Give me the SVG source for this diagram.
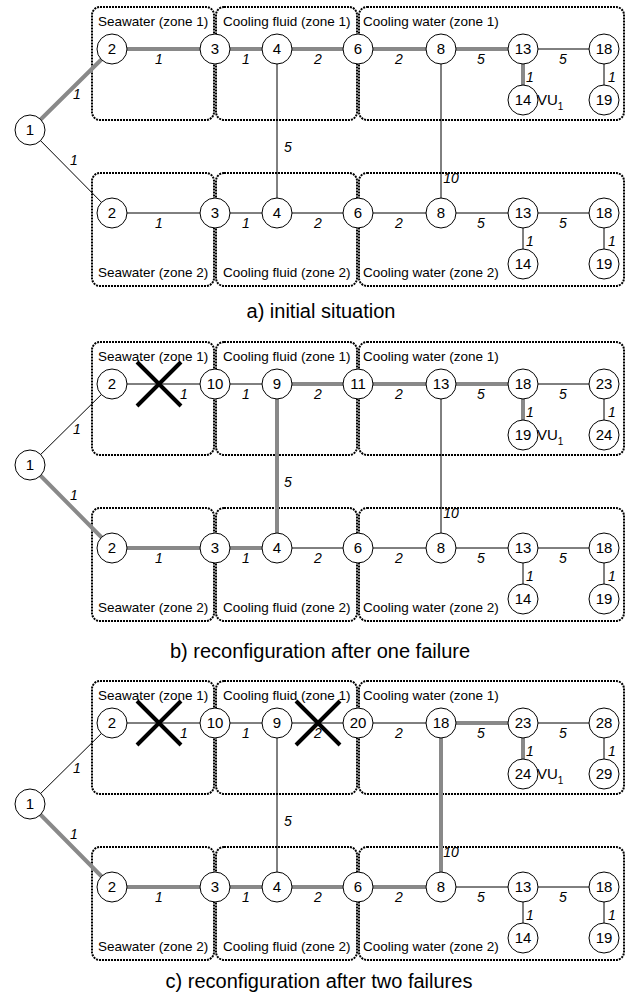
<svg xmlns="http://www.w3.org/2000/svg" width="626" height="993" viewBox="0 0 626 993">
<defs>
<style>
.box{fill:none;stroke:#000;stroke-width:2;stroke-dasharray:2 1}
.e{fill:none;stroke:#000;stroke-width:1}
.h{fill:none;stroke:#898989;stroke-width:4}
.n circle{fill:#fff;stroke:#000;stroke-width:1}
.n text{font-family:"Liberation Sans",Arial,sans-serif;font-size:15px;text-anchor:middle;fill:#000}
.el{font-family:"Liberation Sans",Arial,sans-serif;font-size:14px;font-style:italic;text-anchor:middle;fill:#000}
.zl{font-family:"Liberation Sans",Arial,sans-serif;font-size:13.5px;fill:#000}
.vu{font-family:"Liberation Sans",Arial,sans-serif;font-size:15px;fill:#000}
.sub{font-family:"Liberation Sans",Arial,sans-serif;font-size:10px;fill:#000}
.cap{font-family:"Liberation Sans",Arial,sans-serif;font-size:20px;text-anchor:middle;fill:#000}
.x{stroke:#000;stroke-width:4;fill:none}
</style>
<g id="zones">
<rect class="box" x="92" y="7" width="122" height="113" rx="8"/>
<rect class="box" x="216" y="7" width="141" height="113" rx="8"/>
<rect class="box" x="359" y="7" width="265" height="113" rx="8"/>
<rect class="box" x="92" y="173" width="122" height="113" rx="8"/>
<rect class="box" x="216" y="173" width="141" height="113" rx="8"/>
<rect class="box" x="359" y="173" width="265" height="113" rx="8"/>
<text class="zl" x="98" y="26">Seawater (zone 1)</text>
<text class="zl" x="223" y="26">Cooling fluid (zone 1)</text>
<text class="zl" x="363" y="26">Cooling water (zone 1)</text>
<text class="zl" x="98" y="277">Seawater (zone 2)</text>
<text class="zl" x="223" y="277">Cooling fluid (zone 2)</text>
<text class="zl" x="363" y="277">Cooling water (zone 2)</text>
</g>
<g id="edgelabels-common">
<text class="el" x="77" y="99">1</text>
<text class="el" x="74" y="165">1</text>
<text class="el" x="246" y="64">1</text>
<text class="el" x="399" y="64">2</text>
<text class="el" x="481" y="64">5</text>
<text class="el" x="563" y="64">5</text>
<text class="el" x="530" y="82">1</text>
<text class="el" x="612" y="82">1</text>
<text class="el" x="159" y="228">1</text>
<text class="el" x="246" y="228">1</text>
<text class="el" x="318" y="228">2</text>
<text class="el" x="399" y="228">2</text>
<text class="el" x="481" y="228">5</text>
<text class="el" x="563" y="228">5</text>
<text class="el" x="530" y="246">1</text>
<text class="el" x="612" y="246">1</text>
<text class="el" x="288" y="152">5</text>
<text class="el" x="451" y="183">10</text>
</g>
</defs>

<!-- Panel a -->
<g id="panel-a">
<use href="#zones"/>
<g id="a-connectors">
<path class="e" d="M30 130 L112 213 M277 49 V213 M441 49 V213 M523 49 H604 M604 49 V100 M112 213 H604 M523 213 V264 M604 213 V264"/>
<path class="h" d="M30 130 L112 49 M112 49 H523 M523 49 V100"/>
</g>
<g id="a-edge-labels">
<use href="#edgelabels-common"/>
<text class="el" x="159" y="64">1</text>
<text class="el" x="318" y="64">2</text>
</g>
<g id="a-n1" class="n"><circle cx="30" cy="130" r="15"/><text x="30" y="135">1</text></g>
<g id="a-t2" class="n"><circle cx="112" cy="49" r="15"/><text x="112" y="54">2</text></g>
<g id="a-t3" class="n"><circle cx="215" cy="49" r="15"/><text x="215" y="54">3</text></g>
<g id="a-t4" class="n"><circle cx="277" cy="49" r="15"/><text x="277" y="54">4</text></g>
<g id="a-t6" class="n"><circle cx="358" cy="49" r="15"/><text x="358" y="54">6</text></g>
<g id="a-t8" class="n"><circle cx="441" cy="49" r="15"/><text x="441" y="54">8</text></g>
<g id="a-t13" class="n"><circle cx="523" cy="49" r="15"/><text x="523" y="54">13</text></g>
<g id="a-t18" class="n"><circle cx="604" cy="49" r="15"/><text x="604" y="54">18</text></g>
<g id="a-t14" class="n"><circle cx="523" cy="100" r="15"/><text x="523" y="105">14</text></g>
<g id="a-t19" class="n"><circle cx="604" cy="100" r="15"/><text x="604" y="105">19</text></g>
<g id="a-b2" class="n"><circle cx="112" cy="213" r="15"/><text x="112" y="218">2</text></g>
<g id="a-b3" class="n"><circle cx="215" cy="213" r="15"/><text x="215" y="218">3</text></g>
<g id="a-b4" class="n"><circle cx="277" cy="213" r="15"/><text x="277" y="218">4</text></g>
<g id="a-b6" class="n"><circle cx="358" cy="213" r="15"/><text x="358" y="218">6</text></g>
<g id="a-b8" class="n"><circle cx="441" cy="213" r="15"/><text x="441" y="218">8</text></g>
<g id="a-b13" class="n"><circle cx="523" cy="213" r="15"/><text x="523" y="218">13</text></g>
<g id="a-b18" class="n"><circle cx="604" cy="213" r="15"/><text x="604" y="218">18</text></g>
<g id="a-b14" class="n"><circle cx="523" cy="264" r="15"/><text x="523" y="269">14</text></g>
<g id="a-b19" class="n"><circle cx="604" cy="264" r="15"/><text x="604" y="269">19</text></g>
<text class="vu" x="537" y="105">VU<tspan class="sub" dy="5">1</tspan></text>
<text class="cap" x="321" y="318">a) initial situation</text>
</g>

<!-- Panel b -->
<g id="panel-b" transform="translate(0,335)">
<use href="#zones"/>
<g id="b-connectors">
<path class="e" d="M30 130 L112 49 M112 49 H277 M441 49 V213 M523 49 H604 M604 49 V100 M277 213 H604 M523 213 V264 M604 213 V264"/>
<path class="h" d="M30 130 L112 213 M112 213 H277 M277 49 V213 M277 49 H523 M523 49 V100"/>
</g>
<g id="b-edge-labels">
<use href="#edgelabels-common"/>
<text class="el" x="184" y="64">1</text>
<text class="el" x="318" y="64">2</text>
</g>
<g id="b-n1" class="n"><circle cx="30" cy="130" r="15"/><text x="30" y="135">1</text></g>
<g id="b-t2" class="n"><circle cx="112" cy="49" r="15"/><text x="112" y="54">2</text></g>
<g id="b-t10" class="n"><circle cx="215" cy="49" r="15"/><text x="215" y="54">10</text></g>
<g id="b-t9" class="n"><circle cx="277" cy="49" r="15"/><text x="277" y="54">9</text></g>
<g id="b-t11" class="n"><circle cx="358" cy="49" r="15"/><text x="358" y="54">11</text></g>
<g id="b-t13" class="n"><circle cx="441" cy="49" r="15"/><text x="441" y="54">13</text></g>
<g id="b-t18" class="n"><circle cx="523" cy="49" r="15"/><text x="523" y="54">18</text></g>
<g id="b-t23" class="n"><circle cx="604" cy="49" r="15"/><text x="604" y="54">23</text></g>
<g id="b-t19" class="n"><circle cx="523" cy="100" r="15"/><text x="523" y="105">19</text></g>
<g id="b-t24" class="n"><circle cx="604" cy="100" r="15"/><text x="604" y="105">24</text></g>
<g id="b-b2" class="n"><circle cx="112" cy="213" r="15"/><text x="112" y="218">2</text></g>
<g id="b-b3" class="n"><circle cx="215" cy="213" r="15"/><text x="215" y="218">3</text></g>
<g id="b-b4" class="n"><circle cx="277" cy="213" r="15"/><text x="277" y="218">4</text></g>
<g id="b-b6" class="n"><circle cx="358" cy="213" r="15"/><text x="358" y="218">6</text></g>
<g id="b-b8" class="n"><circle cx="441" cy="213" r="15"/><text x="441" y="218">8</text></g>
<g id="b-b13" class="n"><circle cx="523" cy="213" r="15"/><text x="523" y="218">13</text></g>
<g id="b-b18" class="n"><circle cx="604" cy="213" r="15"/><text x="604" y="218">18</text></g>
<g id="b-b14" class="n"><circle cx="523" cy="264" r="15"/><text x="523" y="269">14</text></g>
<g id="b-b19" class="n"><circle cx="604" cy="264" r="15"/><text x="604" y="269">19</text></g>
<text class="vu" x="537" y="105">VU<tspan class="sub" dy="5">1</tspan></text>
<path class="x" d="M137 27 L181 71 M181 27 L137 71"/>
<text class="cap" x="320" y="323">b) reconfiguration after one failure</text>
</g>

<!-- Panel c -->
<g id="panel-c" transform="translate(0,674)">
<use href="#zones"/>
<g id="c-connectors">
<path class="e" d="M30 130 L112 49 M112 49 H441 M277 49 V213 M523 49 H604 M604 49 V100 M441 213 H604 M523 213 V264 M604 213 V264"/>
<path class="h" d="M30 130 L112 213 M112 213 H441 M441 49 V213 M441 49 H523 M523 49 V100"/>
</g>
<g id="c-edge-labels">
<use href="#edgelabels-common"/>
<text class="el" x="184" y="64">1</text>
<text class="el" x="318" y="64">2</text>
</g>
<g id="c-n1" class="n"><circle cx="30" cy="130" r="15"/><text x="30" y="135">1</text></g>
<g id="c-t2" class="n"><circle cx="112" cy="49" r="15"/><text x="112" y="54">2</text></g>
<g id="c-t10" class="n"><circle cx="215" cy="49" r="15"/><text x="215" y="54">10</text></g>
<g id="c-t9" class="n"><circle cx="277" cy="49" r="15"/><text x="277" y="54">9</text></g>
<g id="c-t20" class="n"><circle cx="358" cy="49" r="15"/><text x="358" y="54">20</text></g>
<g id="c-t18" class="n"><circle cx="441" cy="49" r="15"/><text x="441" y="54">18</text></g>
<g id="c-t23" class="n"><circle cx="523" cy="49" r="15"/><text x="523" y="54">23</text></g>
<g id="c-t28" class="n"><circle cx="604" cy="49" r="15"/><text x="604" y="54">28</text></g>
<g id="c-t24" class="n"><circle cx="523" cy="100" r="15"/><text x="523" y="105">24</text></g>
<g id="c-t29" class="n"><circle cx="604" cy="100" r="15"/><text x="604" y="105">29</text></g>
<g id="c-b2" class="n"><circle cx="112" cy="213" r="15"/><text x="112" y="218">2</text></g>
<g id="c-b3" class="n"><circle cx="215" cy="213" r="15"/><text x="215" y="218">3</text></g>
<g id="c-b4" class="n"><circle cx="277" cy="213" r="15"/><text x="277" y="218">4</text></g>
<g id="c-b6" class="n"><circle cx="358" cy="213" r="15"/><text x="358" y="218">6</text></g>
<g id="c-b8" class="n"><circle cx="441" cy="213" r="15"/><text x="441" y="218">8</text></g>
<g id="c-b13" class="n"><circle cx="523" cy="213" r="15"/><text x="523" y="218">13</text></g>
<g id="c-b18" class="n"><circle cx="604" cy="213" r="15"/><text x="604" y="218">18</text></g>
<g id="c-b14" class="n"><circle cx="523" cy="264" r="15"/><text x="523" y="269">14</text></g>
<g id="c-b19" class="n"><circle cx="604" cy="264" r="15"/><text x="604" y="269">19</text></g>
<text class="vu" x="537" y="105">VU<tspan class="sub" dy="5">1</tspan></text>
<path class="x" d="M137 27 L181 71 M181 27 L137 71 M296 27 L340 71 M340 27 L296 71"/>
<text class="cap" x="319" y="314">c) reconfiguration after two failures</text>
</g>
</svg>
